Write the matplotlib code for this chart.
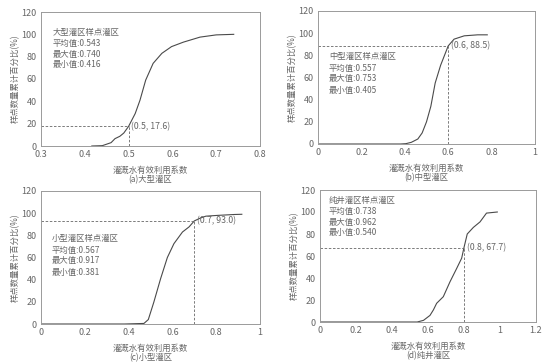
import matplotlib
matplotlib.use("Agg")
import matplotlib.pyplot as plt

plt.rcParams["font.family"] = ["Noto Sans CJK SC", "DejaVu Sans"]

W, H = 554, 364

# ── data ─────────────────────────────────────────────────────────────────────
a_x = [0.416, 0.44, 0.46, 0.469, 0.48, 0.489, 0.50, 0.515, 0.526, 0.539, 0.556,
       0.576, 0.598, 0.625, 0.663, 0.70, 0.74]
a_y = [0, 0.3, 3, 6.6, 8.7, 11.6, 17.6, 29, 41, 59, 74, 83, 89, 93, 97.5, 99.5, 100]

b_x = [0, 0.38, 0.405, 0.43, 0.46, 0.48, 0.50, 0.52, 0.54, 0.565, 0.60, 0.627,
       0.674, 0.736, 0.78]
b_y = [0, 0, 0.3, 1.5, 4.5, 10, 20, 34, 55, 71, 88.5, 94.6, 97.6, 98.5, 98.5]

c_x = [0, 0.381, 0.47, 0.49, 0.515, 0.546, 0.577, 0.607, 0.646, 0.676, 0.70,
       0.73, 0.753, 0.807, 0.883, 0.917]
c_y = [0, 0, 0.5, 4, 19.6, 40.8, 60, 72.5, 83, 87.6, 93.0, 95.8, 97.3, 98, 98.8, 99]

d_x = [0, 0.54, 0.575, 0.611, 0.63, 0.648, 0.685, 0.722, 0.759, 0.787, 0.80,
       0.818, 0.852, 0.889, 0.925, 0.985]
d_y = [0, 0, 1.5, 6, 11, 17, 23, 36.5, 48.6, 58, 67.7, 80, 86, 91, 99, 100]

names = ["大型灌区", "中型灌区", "小型灌区", "纯井灌区"]
letters = ["a", "b", "c", "d"]
means = ["0.543", "0.557", "0.567", "0.738"]
maxs = ["0.740", "0.753", "0.917", "0.962"]
mins = ["0.416", "0.405", "0.381", "0.540"]
marks = [(0.5, 17.6), (0.6, 88.5), (0.7, 93.0), (0.8, 67.7)]
mark_labels = ["(0.5, 17.6)", "(0.6, 88.5)", "(0.7, 93.0)", "(0.8, 67.7)"]

x_ticks = [
    [0.3, 0.4, 0.5, 0.6, 0.7, 0.8],
    [0, 0.2, 0.4, 0.6, 0.8, 1],
    [0, 0.2, 0.4, 0.6, 0.8, 1],
    [0, 0.2, 0.4, 0.6, 0.8, 1, 1.2],
]
x_tick_labels = [
    ["0.3", "0.4", "0.5", "0.6", "0.7", "0.8"],
    ["0", "0.2", "0.4", "0.6", "0.8", "1"],
    ["0", "0.2", "0.4", "0.6", "0.8", "1"],
    ["0", "0.2", "0.4", "0.6", "0.8", "1", "1.2"],
]
y_ticks = [0, 20, 40, 60, 80, 100, 120]

# pixel boxes: left, top, right, bottom
boxes = [(41, 12, 260, 146), (318, 11, 535, 144), (41, 191, 260, 324), (320, 190, 536, 322)]
# inset text anchor (px)
text_pos = [(53, 32), (329, 57), (52, 239), (329, 200)]
series = [(a_x, a_y), (b_x, b_y), (c_x, c_y), (d_x, d_y)]

LINE = "#4a4a4a"
GRAY = "#666666"
SPINE = "#9a9a9a"
FS = 6

fig = plt.figure(figsize=(W / 100, H / 100), dpi=100)
fig.patch.set_facecolor("white")

for i in range(4):
    l, t, r, b = boxes[i]
    ax = fig.add_axes([l / W, 1 - b / H, (r - l) / W, (b - t) / H])
    xs, ys = series[i]
    ax.plot(xs, ys, color=LINE, lw=0.8)

    xt = x_ticks[i]
    ax.set_xlim(xt[0], xt[-1])
    ax.set_ylim(0, 120)
    ax.set_xticks(xt)
    ax.set_xticklabels(x_tick_labels[i])
    ax.set_yticks(y_ticks)
    ax.tick_params(length=0, labelsize=6.5, labelcolor=GRAY, pad=3)
    for s in ax.spines.values():
        s.set_color(SPINE)
        s.set_linewidth(0.7)

    mx, my = marks[i]
    ax.plot([xt[0], mx], [my, my], ls=(0, (3, 2)), color=GRAY, lw=0.6)
    ax.plot([mx, mx], [0, my], ls=(0, (3, 2)), color=GRAY, lw=0.6)
    ax.annotate(mark_labels[i], xy=(mx, my), xytext=(2, 0),
                textcoords="offset points", fontsize=FS + 0.3, color=GRAY,
                va="center", ha="left")

    ax.set_ylabel("样点数量累计百分比(%)", fontsize=FS, color=GRAY, labelpad=1)
    ax.set_xlabel("灌溉水有效利用系数", fontsize=FS, color=GRAY, labelpad=5)

    tx, ty = text_pos[i]
    lines = [f"{names[i]}样点灌区", f"平均值:{means[i]}", f"最大值:{maxs[i]}", f"最小值:{mins[i]}"]
    for k, s in enumerate(lines):
        fig.text(tx / W, 1 - (ty + k * 11) / H, s, fontsize=FS, color=GRAY,
                 va="center", ha="left")

    fig.text(((l + r) / 2) / W, 1 - (b + 34) / H, f"({letters[i]}){names[i]}",
             fontsize=FS, color=GRAY, ha="center", va="center")

fig.savefig("out.png", dpi=100)
